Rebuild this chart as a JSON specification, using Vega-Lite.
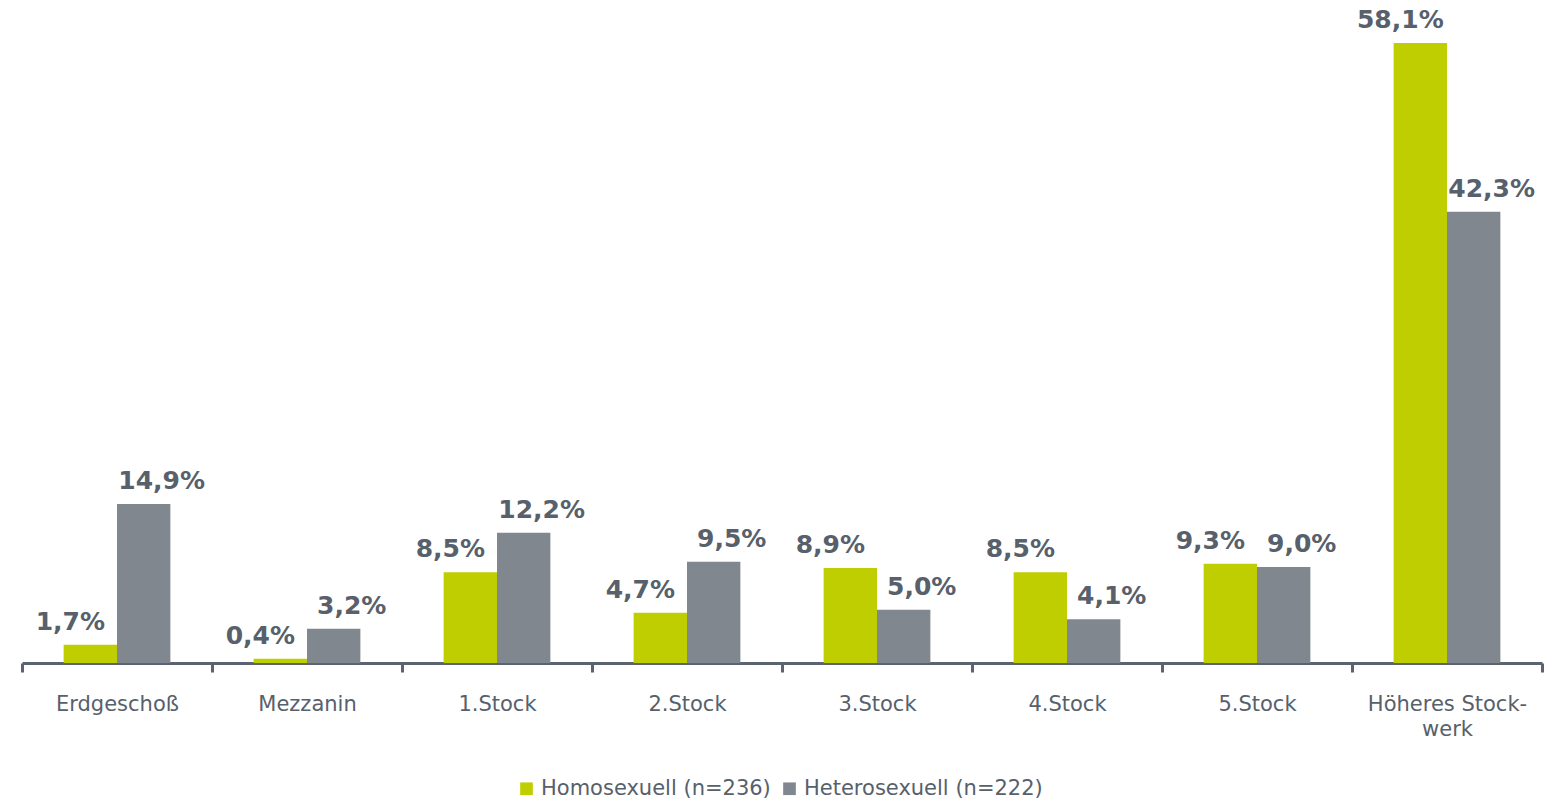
{
  "$schema": "https://vega.github.io/schema/vega-lite/v6.json",
  "width": 1520,
  "height": 653,
  "autosize": {"type": "none"},
  "padding": {"left": 22, "top": 10, "right": 12, "bottom": 139},
  "background": "white",
  "config": {
    "view": {"stroke": null},
    "font": "DejaVu Sans",
    "locale": {"number": {"decimal": ",", "thousands": ".", "grouping": [3], "currency": ["", " €"]}}
  },
  "data": {
    "values": [
      {"stock": "Erdgeschoß", "gruppe": "Homosexuell (n=236)", "anteil": 0.017},
      {"stock": "Erdgeschoß", "gruppe": "Heterosexuell (n=222)", "anteil": 0.149},
      {"stock": "Mezzanin", "gruppe": "Homosexuell (n=236)", "anteil": 0.004},
      {"stock": "Mezzanin", "gruppe": "Heterosexuell (n=222)", "anteil": 0.032},
      {"stock": "1.Stock", "gruppe": "Homosexuell (n=236)", "anteil": 0.085},
      {"stock": "1.Stock", "gruppe": "Heterosexuell (n=222)", "anteil": 0.122},
      {"stock": "2.Stock", "gruppe": "Homosexuell (n=236)", "anteil": 0.047},
      {"stock": "2.Stock", "gruppe": "Heterosexuell (n=222)", "anteil": 0.095},
      {"stock": "3.Stock", "gruppe": "Homosexuell (n=236)", "anteil": 0.089},
      {"stock": "3.Stock", "gruppe": "Heterosexuell (n=222)", "anteil": 0.05},
      {"stock": "4.Stock", "gruppe": "Homosexuell (n=236)", "anteil": 0.085},
      {"stock": "4.Stock", "gruppe": "Heterosexuell (n=222)", "anteil": 0.041},
      {"stock": "5.Stock", "gruppe": "Homosexuell (n=236)", "anteil": 0.093},
      {"stock": "5.Stock", "gruppe": "Heterosexuell (n=222)", "anteil": 0.09},
      {"stock": "Höheres Stock-werk", "gruppe": "Homosexuell (n=236)", "anteil": 0.581},
      {"stock": "Höheres Stock-werk", "gruppe": "Heterosexuell (n=222)", "anteil": 0.423}
    ]
  },
  "encoding": {
    "x": {
      "field": "stock",
      "type": "nominal",
      "sort": null,
      "scale": {"paddingInner": 0, "paddingOuter": 0},
      "axis": {
        "title": null,
        "labelAngle": 0,
        "tickBand": "extent",
        "domainColor": "#5a6470",
        "domainWidth": 3,
        "tickColor": "#5a6470",
        "tickWidth": 3,
        "tickSize": 9,
        "labelColor": "#57606b",
        "labelFontSize": 21,
        "labelPadding": 21,
        "labelLineHeight": 25,
        "labelLimit": 0,
        "labelExpr": "datum.label == 'Höheres Stock-werk' ? ['Höheres Stock-', 'werk'] : datum.label"
      }
    },
    "xOffset": {
      "field": "gruppe",
      "type": "nominal",
      "scale": {"domain": ["Homosexuell (n=236)", "Heterosexuell (n=222)"], "paddingInner": 0, "paddingOuter": 0.78}
    },
    "y": {
      "field": "anteil",
      "type": "quantitative",
      "scale": {"domain": [0, 0.612], "nice": false},
      "axis": null
    }
  },
  "layer": [
    {
      "mark": {"type": "bar"},
      "encoding": {
        "color": {
          "field": "gruppe",
          "type": "nominal",
          "scale": {"domain": ["Homosexuell (n=236)", "Heterosexuell (n=222)"], "range": ["#bfce00", "#80878f"]},
          "legend": {
            "title": null,
            "orient": "none",
            "direction": "horizontal",
            "legendX": 494,
            "legendY": 768,
            "symbolType": "square",
            "symbolSize": 160,
            "symbolStrokeWidth": 0,
            "symbolOpacity": 1,
            "labelFontSize": 21,
            "labelLimit": 0,
            "labelColor": "#57606b",
            "columnPadding": 8,
            "labelOffset": 4
          }
        }
      }
    },
    {
      "mark": {
        "type": "text",
        "baseline": "bottom",
        "dy": -10,
        "dx": {"expr": "datum.gruppe == 'Homosexuell (n=236)' ? -20 : 18"},
        "fontSize": 25,
        "fontWeight": "bold",
        "color": "#57606b"
      },
      "encoding": {
        "text": {"field": "anteil", "type": "quantitative", "format": ".1%"}
      }
    }
  ]
}
